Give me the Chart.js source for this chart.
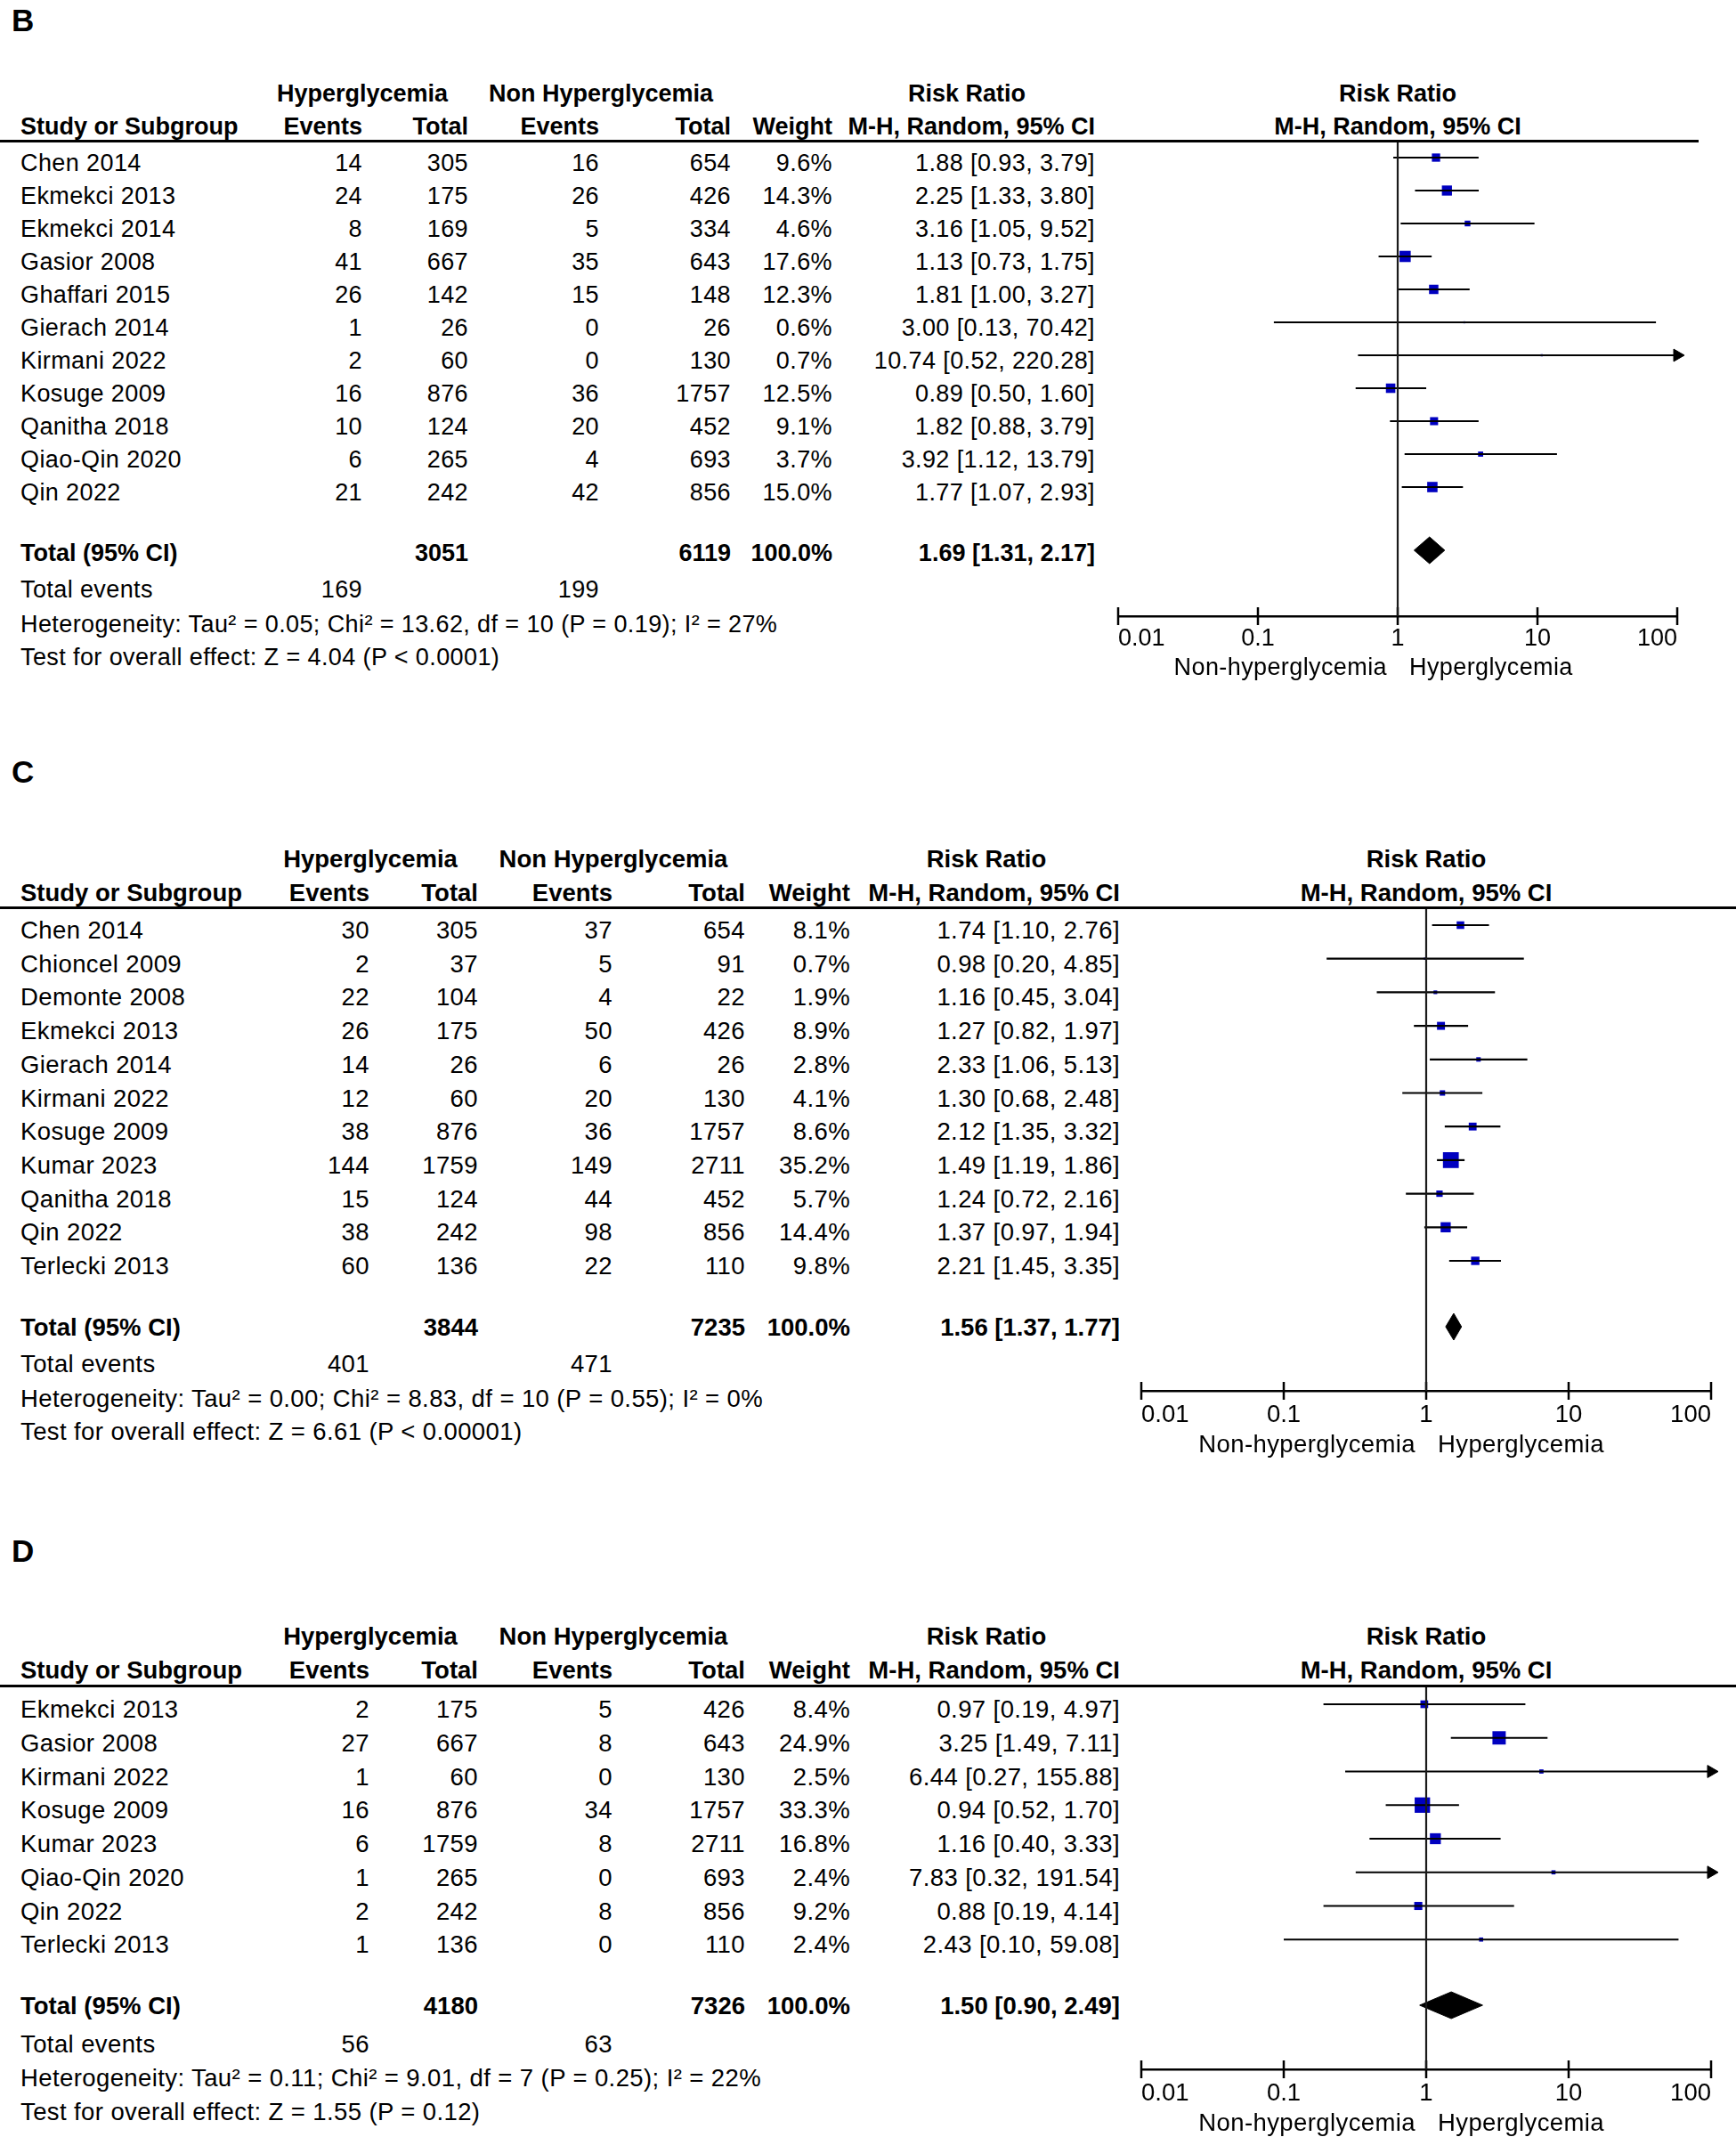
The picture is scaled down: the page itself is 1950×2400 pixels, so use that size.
<!DOCTYPE html>
<html>
<head>
<meta charset="utf-8">
<script src="https://cdn.jsdelivr.net/npm/chart.js@4.4.1/dist/chart.umd.min.js"></script>
<style>
body { margin: 0; background: #fff; width: 1950px; height: 2400px; overflow: hidden; position: relative;
       font-family: "Liberation Sans", Arial, sans-serif; color: #000; }
.t { position: absolute; white-space: nowrap; height: 32px; line-height: 32px; letter-spacing: 0.4px; }
.b { font-weight: bold; letter-spacing: 0; }
.rule { position: absolute; left: 0; height: 3px; background: #000; }
canvas { position: absolute; }
</style>
</head>
<body>
<script>
const FONT = '"Liberation Sans", Arial, sans-serif';
const tickVals = [0.01, 0.1, 1, 10, 100];

// ---- Panel B ----
const studiesB = ["Chen 2014", "Ekmekci 2013", "Ekmekci 2014", "Gasior 2008", "Ghaffari 2015", "Gierach 2014",
                  "Kirmani 2022", "Kosuge 2009", "Qanitha 2018", "Qiao-Qin 2020", "Qin 2022"];
const hyperEventsB = [14, 24, 8, 41, 26, 1, 2, 16, 10, 6, 21];
const hyperTotalB = [305, 175, 169, 667, 142, 26, 60, 876, 124, 265, 242];
const nonEventsB = [16, 26, 5, 35, 15, 0, 0, 36, 20, 4, 42];
const nonTotalB = [654, 426, 334, 643, 148, 26, 130, 1757, 452, 693, 856];
const weightB = [9.6, 14.3, 4.6, 17.6, 12.3, 0.6, 0.7, 12.5, 9.1, 3.7, 15.0];
const rrB = [1.88, 2.25, 3.16, 1.13, 1.81, 3.00, 10.74, 0.89, 1.82, 3.92, 1.77];
const loB = [0.93, 1.33, 1.05, 0.73, 1.00, 0.13, 0.52, 0.50, 0.88, 1.12, 1.07];
const hiB = [3.79, 3.80, 9.52, 1.75, 3.27, 70.42, 220.28, 1.60, 3.79, 13.79, 2.93];
const totalsB = [3051, 6119];          // hyper total, non total
const totalEventsB = [169, 199];
const pooledB = [1.69, 1.31, 2.17];   // rr, lo, hi
const hetB = "Heterogeneity: Tau² = 0.05; Chi² = 13.62, df = 10 (P = 0.19); I² = 27%";
const testB = "Test for overall effect: Z = 4.04 (P < 0.0001)";

// ---- Panel C ----
const studiesC = ["Chen 2014", "Chioncel 2009", "Demonte 2008", "Ekmekci 2013", "Gierach 2014", "Kirmani 2022",
                  "Kosuge 2009", "Kumar 2023", "Qanitha 2018", "Qin 2022", "Terlecki 2013"];
const hyperEventsC = [30, 2, 22, 26, 14, 12, 38, 144, 15, 38, 60];
const hyperTotalC = [305, 37, 104, 175, 26, 60, 876, 1759, 124, 242, 136];
const nonEventsC = [37, 5, 4, 50, 6, 20, 36, 149, 44, 98, 22];
const nonTotalC = [654, 91, 22, 426, 26, 130, 1757, 2711, 452, 856, 110];
const weightC = [8.1, 0.7, 1.9, 8.9, 2.8, 4.1, 8.6, 35.2, 5.7, 14.4, 9.8];
const rrC = [1.74, 0.98, 1.16, 1.27, 2.33, 1.30, 2.12, 1.49, 1.24, 1.37, 2.21];
const loC = [1.10, 0.20, 0.45, 0.82, 1.06, 0.68, 1.35, 1.19, 0.72, 0.97, 1.45];
const hiC = [2.76, 4.85, 3.04, 1.97, 5.13, 2.48, 3.32, 1.86, 2.16, 1.94, 3.35];
const totalsC = [3844, 7235];
const totalEventsC = [401, 471];
const pooledC = [1.56, 1.37, 1.77];
const hetC = "Heterogeneity: Tau² = 0.00; Chi² = 8.83, df = 10 (P = 0.55); I² = 0%";
const testC = "Test for overall effect: Z = 6.61 (P < 0.00001)";

// ---- Panel D ----
const studiesD = ["Ekmekci 2013", "Gasior 2008", "Kirmani 2022", "Kosuge 2009", "Kumar 2023", "Qiao-Qin 2020",
                  "Qin 2022", "Terlecki 2013"];
const hyperEventsD = [2, 27, 1, 16, 6, 1, 2, 1];
const hyperTotalD = [175, 667, 60, 876, 1759, 265, 242, 136];
const nonEventsD = [5, 8, 0, 34, 8, 0, 8, 0];
const nonTotalD = [426, 643, 130, 1757, 2711, 693, 856, 110];
const weightD = [8.4, 24.9, 2.5, 33.3, 16.8, 2.4, 9.2, 2.4];
const rrD = [0.97, 3.25, 6.44, 0.94, 1.16, 7.83, 0.88, 2.43];
const loD = [0.19, 1.49, 0.27, 0.52, 0.40, 0.32, 0.19, 0.10];
const hiD = [4.97, 7.11, 155.88, 1.70, 3.33, 191.54, 4.14, 59.08];
const totalsD = [4180, 7326];
const totalEventsD = [56, 63];
const pooledD = [1.50, 0.90, 2.49];
const hetD = "Heterogeneity: Tau² = 0.11; Chi² = 9.01, df = 7 (P = 0.25); I² = 22%";
const testD = "Test for overall effect: Z = 1.55 (P = 0.12)";

// page layout of each panel (pixels)
const colsB = { ev1: 407, tot1: 526, ev2: 673, tot2: 821, wt: 935, ci: 1230, hyperC: 407, nonC: 675, rrC: 1086 };
const colsCD = { ev1: 415, tot1: 537, ev2: 688, tot2: 837, wt: 955, ci: 1258, hyperC: 416, nonC: 689, rrC: 1108 };

const layoutB = { letter: "B", letterY: 23, head1: 105, head2: 142, lineY: 158, lineRight: 1908,
  r0: 177, pitch: 37.0, textOff: 6, totalY: 621, diamondY: 618, eventsY: 662, hetY: 701, testY: 738,
  axisY: 692, axisL: 1256, axisR: 1884, dirY: 749, tickPad: 9, font: 27, cols: colsB };
const layoutC = { letter: "C", letterY: 867, head1: 965, head2: 1003, lineY: 1019, lineRight: 1950,
  r0: 1039, pitch: 37.7, textOff: 6, totalY: 1491, diamondY: 1490, eventsY: 1532, hetY: 1571, testY: 1608,
  axisY: 1562, axisL: 1282, axisR: 1922, dirY: 1622, tickPad: 11, font: 27.5, cols: colsCD };
const layoutD = { letter: "D", letterY: 1742, head1: 1838, head2: 1876, lineY: 1893, lineRight: 1950,
  r0: 1914, pitch: 37.75, textOff: 6, totalY: 2253, diamondY: 2252, eventsY: 2296, hetY: 2334, testY: 2372,
  axisY: 2324, axisL: 1282, axisR: 1922, dirY: 2384, tickPad: 11, font: 27.5, cols: colsCD };

function txt(s, x, y, align, size, bold) {
  const d = document.createElement("div");
  d.className = "t" + (bold ? " b" : "");
  d.textContent = s;
  d.style.fontSize = size + "px";
  d.style.top = (y - 16) + "px";
  if (align === "left") {
    d.style.left = x + "px";
  } else if (align === "right") {
    d.style.left = (x - 700) + "px"; d.style.width = "700px"; d.style.textAlign = "right";
  } else {
    d.style.left = (x - 400) + "px"; d.style.width = "800px"; d.style.textAlign = "center";
  }
  document.body.appendChild(d);
}

const fmt = v => v.toFixed(2);

function panel(P, L) {
  const c = L.cols, f = L.font;
  const plotC = (L.axisL + L.axisR) / 2;

  // forest plot
  const padX = 20, AX = 60;
  const top = L.lineY + 2;
  const W = (L.axisR - L.axisL) + 2 * padX;
  const H = (L.axisY - top) + AX;
  const cv = document.createElement("canvas");
  cv.width = W; cv.height = H;
  cv.style.left = (L.axisL - padX) + "px";
  cv.style.top = top + "px";
  cv.style.width = W + "px"; cv.style.height = H + "px";
  document.body.appendChild(cv);

  const yMin = (top - L.r0) / L.pitch;
  const yMax = (L.axisY - L.r0) / L.pitch;
  const dRow = (L.diamondY - L.r0) / L.pitch;
  const dH = 15 / L.pitch;

  const datasets = [];
  // line of no effect
  datasets.push({ data: [{ x: 1, y: yMin }, { x: 1, y: yMax }], showLine: true,
    borderColor: "#1a1a1a", borderWidth: 2.2, pointRadius: 0 });
  // confidence intervals
  P.studies.forEach((s, i) => {
    datasets.push({ data: [{ x: P.lo[i], y: i }, { x: Math.min(P.hi[i], 100), y: i }], showLine: true,
      borderColor: "#000", borderWidth: 2.2, pointRadius: 0 });
  });
  // arrows for intervals that run off the scale
  const arrows = [];
  P.hi.forEach((h, i) => { if (h > 100) arrows.push({ x: 100, y: i }); });
  datasets.push({ data: arrows, pointStyle: "triangle", pointRotation: 90, pointRadius: 8,
    pointBackgroundColor: "#000", pointBorderColor: "#000", pointBorderWidth: 1, clip: false });
  // study estimates, square area by weight
  datasets.push({ data: P.rr.map((v, i) => ({ x: v, y: i })), pointStyle: "rect",
    pointRadius: P.weight.map(w => Math.max(1.3, 2.12 * Math.sqrt(w))),
    pointBackgroundColor: "#0000c0", pointBorderWidth: 0 });
  // pooled diamond
  const pr = P.pooled;
  datasets.push({ data: [{ x: pr[1], y: dRow }, { x: pr[0], y: dRow - dH }, { x: pr[2], y: dRow },
      { x: pr[0], y: dRow + dH }, { x: pr[1], y: dRow }],
    showLine: true, fill: "shape", backgroundColor: "#000", borderColor: "#000", borderWidth: 1,
    pointRadius: 0, tension: 0 });
  // axis tick marks crossing the axis line
  datasets.push({ data: tickVals.map(v => ({ x: v, y: yMax })), pointStyle: "line", pointRotation: 90,
    pointRadius: 10, pointBorderColor: "#000", pointBorderWidth: 2.5, clip: false });

  new Chart(cv.getContext("2d"), {
    type: "scatter",
    data: { datasets: datasets },
    options: {
      responsive: false,
      animation: false,
      devicePixelRatio: 1,
      layout: { autoPadding: false, padding: { left: padX, right: padX, top: 0, bottom: 0 } },
      plugins: { legend: { display: false }, tooltip: { enabled: false } },
      scales: {
        x: {
          type: "logarithmic", min: 0.01, max: 100, position: "bottom",
          afterBuildTicks: s => { s.ticks = tickVals.map(v => ({ value: v })); },
          afterFit: s => { s.height = AX; },
          grid: { display: false, drawTicks: false },
          border: { display: true, color: "#000", width: 2.5 },
          ticks: { align: "inner", padding: L.tickPad, color: "#000", autoSkip: false, maxRotation: 0,
                   font: { family: FONT, size: f }, callback: v => String(v) }
        },
        y: { type: "linear", display: false, reverse: true, min: yMin, max: yMax }
      }
    }
  });

  // panel letter and header
  const lt = document.createElement("div");
  lt.className = "t b"; lt.textContent = L.letter;
  lt.style.fontSize = "35px"; lt.style.left = "13px"; lt.style.top = (L.letterY - 16) + "px";
  document.body.appendChild(lt);

  txt("Hyperglycemia", c.hyperC, L.head1, "center", f, true);
  txt("Non Hyperglycemia", c.nonC, L.head1, "center", f, true);
  txt("Risk Ratio", c.rrC, L.head1, "center", f, true);
  txt("Risk Ratio", plotC, L.head1, "center", f, true);
  txt("Study or Subgroup", 23, L.head2, "left", f, true);
  txt("Events", c.ev1, L.head2, "right", f, true);
  txt("Total", c.tot1, L.head2, "right", f, true);
  txt("Events", c.ev2, L.head2, "right", f, true);
  txt("Total", c.tot2, L.head2, "right", f, true);
  txt("Weight", c.wt, L.head2, "right", f, true);
  txt("M-H, Random, 95% CI", c.ci, L.head2, "right", f, true);
  txt("M-H, Random, 95% CI", plotC, L.head2, "center", f, true);

  const rule = document.createElement("div");
  rule.className = "rule";
  rule.style.top = (L.lineY - 1) + "px";
  rule.style.width = L.lineRight + "px";
  document.body.appendChild(rule);

  // study rows
  P.studies.forEach((s, i) => {
    const y = L.r0 + i * L.pitch + L.textOff;
    txt(s, 23, y, "left", f, false);
    txt(String(P.hyperEvents[i]), c.ev1, y, "right", f, false);
    txt(String(P.hyperTotal[i]), c.tot1, y, "right", f, false);
    txt(String(P.nonEvents[i]), c.ev2, y, "right", f, false);
    txt(String(P.nonTotal[i]), c.tot2, y, "right", f, false);
    txt(P.weight[i].toFixed(1) + "%", c.wt, y, "right", f, false);
    txt(fmt(P.rr[i]) + " [" + fmt(P.lo[i]) + ", " + fmt(P.hi[i]) + "]", c.ci, y, "right", f, false);
  });

  // totals
  txt("Total (95% CI)", 23, L.totalY, "left", f, true);
  txt(String(P.totals[0]), c.tot1, L.totalY, "right", f, true);
  txt(String(P.totals[1]), c.tot2, L.totalY, "right", f, true);
  txt("100.0%", c.wt, L.totalY, "right", f, true);
  txt(fmt(pr[0]) + " [" + fmt(pr[1]) + ", " + fmt(pr[2]) + "]", c.ci, L.totalY, "right", f, true);
  txt("Total events", 23, L.eventsY, "left", f, false);
  txt(String(P.totalEvents[0]), c.ev1, L.eventsY, "right", f, false);
  txt(String(P.totalEvents[1]), c.ev2, L.eventsY, "right", f, false);
  txt(P.het, 23, L.hetY, "left", f, false);
  txt(P.test, 23, L.testY, "left", f, false);

  // favours labels
  txt("Non-hyperglycemia", plotC - 12, L.dirY, "right", f, false);
  txt("Hyperglycemia", plotC + 13, L.dirY, "left", f, false);
}

panel({ studies: studiesB, hyperEvents: hyperEventsB, hyperTotal: hyperTotalB, nonEvents: nonEventsB,
        nonTotal: nonTotalB, weight: weightB, rr: rrB, lo: loB, hi: hiB, totals: totalsB,
        totalEvents: totalEventsB, pooled: pooledB, het: hetB, test: testB }, layoutB);
panel({ studies: studiesC, hyperEvents: hyperEventsC, hyperTotal: hyperTotalC, nonEvents: nonEventsC,
        nonTotal: nonTotalC, weight: weightC, rr: rrC, lo: loC, hi: hiC, totals: totalsC,
        totalEvents: totalEventsC, pooled: pooledC, het: hetC, test: testC }, layoutC);
panel({ studies: studiesD, hyperEvents: hyperEventsD, hyperTotal: hyperTotalD, nonEvents: nonEventsD,
        nonTotal: nonTotalD, weight: weightD, rr: rrD, lo: loD, hi: hiD, totals: totalsD,
        totalEvents: totalEventsD, pooled: pooledD, het: hetD, test: testD }, layoutD);
</script>
</body>
</html>
